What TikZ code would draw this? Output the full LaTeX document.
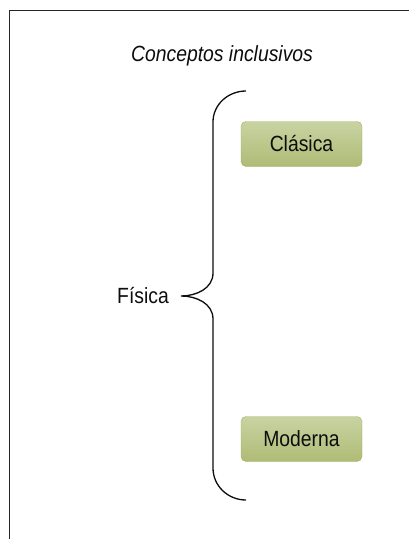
\documentclass[tikz,border=0pt]{standalone}
\usepackage{fontspec}
\setmainfont[FakeStretch=0.88]{Liberation Sans}
\usetikzlibrary{positioning}
\definecolor{boxtop}{HTML}{C9D3A3}
\definecolor{boxbot}{HTML}{AFBB75}
\definecolor{boxline}{HTML}{A3B263}
\tikzset{
  concepto/.style={rounded corners=5pt, draw=boxline, top color=boxtop, bottom color=boxbot,
    minimum width=121pt, minimum height=45pt, font=\fontsize{22}{26}\selectfont, text=black!95},
  rotulo/.style={font=\fontsize{22}{26}\selectfont, text=black!95},
}
\begin{document}
\begin{tikzpicture}[x=1pt,y=-1pt]
\useasboundingbox (0,0) rectangle (409,539);
\draw[line width=1.7pt, black!85] (409,10.5) -- (9.5,10.5) -- (9.5,539);
\node[rotulo, font=\itshape\fontsize{22}{26}\selectfont] (titulo) at (222,56) {Conceptos inclusivos};
\foreach \y/\nombre/\texto in {144/clasica/Clásica, 439/moderna/Moderna}
{
    \node[concepto] (\nombre) at (301.5,\y) {\texto};
}
\node[rotulo, anchor=base] (fisica) at (143,303) {Física};
\coordinate (punta) at (181,296);
% llave
\draw[line width=1.3pt, black!95] (246,91) to[out=180,in=90] (213,122) -- (213,273)
  to[out=-90,in=0] (punta) to[out=0,in=90] (213,319) -- (213,468) to[out=-90,in=180] (246,500);
\end{tikzpicture}
\end{document}
